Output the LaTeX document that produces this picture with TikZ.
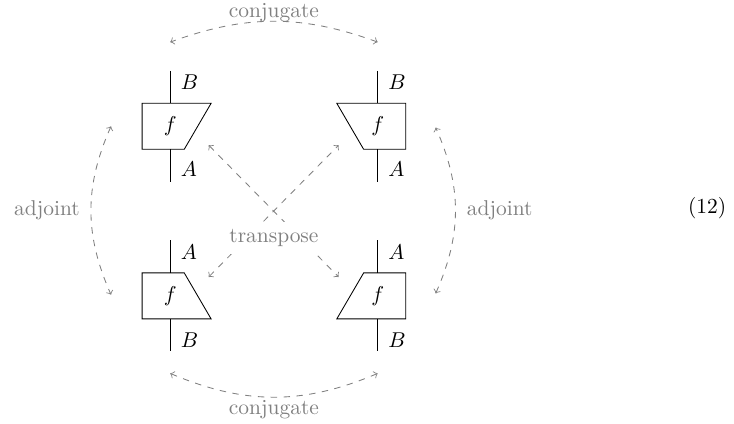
\documentclass[tikz,border=0pt]{standalone}
\begin{document}
\begin{tikzpicture}[
    box/.style={thin},
    wire/.style={thin},
    conn/.style={gray,dashed,<->},
    lbl/.style={gray},
    wlbl/.style={anchor=west,inner sep=0.333em}]
\useasboundingbox (-4.49,-3.475) rectangle (7.54,3.46);
    %boxes
    \draw[box](-2.16,1.013)--++(0,0.754)--++(1.13,0)--++(-0.44,-0.754)--cycle;
    \draw[box](2.16,1.013)--++(0,0.754)--++(-1.13,0)--++(0.44,-0.754)--cycle;
    \draw[box](-2.16,-1.013)--++(0,-0.754)--++(1.13,0)--++(-0.44,0.754)--cycle;
    \draw[box](2.16,-1.013)--++(0,-0.754)--++(-1.13,0)--++(0.44,0.754)--cycle;
    \node (fTL) at (-1.7,1.39) {$f$};
    \node (fTR) at (1.7,1.39) {$f$};
    \node (fBL) at (-1.7,-1.39) {$f$};
    \node (fBR) at (1.7,-1.39) {$f$};
    %wires
    \draw[wire](-1.7,2.30)--(-1.7,1.767);
    \draw[wire](-1.7,1.013)--(-1.7,0.48);
    \draw[wire](1.7,2.30)--(1.7,1.767);
    \draw[wire](1.7,1.013)--(1.7,0.48);
    \draw[wire](-1.7,-0.48)--(-1.7,-1.013);
    \draw[wire](-1.7,-1.767)--(-1.7,-2.30);
    \draw[wire](1.7,-0.48)--(1.7,-1.013);
    \draw[wire](1.7,-1.767)--(1.7,-2.30);
    %wire labels
    \node[wlbl] (bTL) at (-1.65,2.12) {$B$};
    \node[wlbl] (aTL) at (-1.65,0.68) {$A$};
    \node[wlbl] (bTR) at (1.75,2.12) {$B$};
    \node[wlbl] (aTR) at (1.75,0.68) {$A$};
    \node[wlbl] (aBL) at (-1.65,-0.67) {$A$};
    \node[wlbl] (bBL) at (-1.65,-2.11) {$B$};
    \node[wlbl] (aBR) at (1.75,-0.67) {$A$};
    \node[wlbl] (bBR) at (1.75,-2.11) {$B$};

    %arrow ends
    \coordinate (cTL) at (-1.7,2.77);
    \coordinate (cTR) at (1.7,2.77);
    \coordinate (cBL) at (-1.7,-2.66);
    \coordinate (cBR) at (1.7,-2.66);
    \coordinate (aLT) at (-2.67,1.39);
    \coordinate (aLB) at (-2.67,-1.37);
    \coordinate (aRT) at (2.65,1.37);
    \coordinate (aRB) at (2.65,-1.35);
    \coordinate (tTL) at (-1.07,1.08);
    \coordinate (tTR) at (1.06,1.08);
    \coordinate (tBL) at (-1.07,-1.08);
    \coordinate (tBR) at (1.06,-1.08);

    %conjugate
    \draw[conn](cTR) to[bend right=20] (cTL);
    \draw[conn](cBL) to[bend right=23] (cBR);
    \node[lbl] (conjT) at (0,3.25) {conjugate};
    \node[lbl] (conjB) at (0,-3.26) {conjugate};
    %adjoint
    \draw[conn](aLT) to[bend right=24] (aLB);
    \draw[conn](aRB) to[bend right=24] (aRT);
    \node[lbl] (adjL) at (-3.72,0.02) {adjoint};
    \node[lbl] (adjR) at (3.70,0.02) {adjoint};
    %transpose
    \draw[conn](tBL)--(tTR);
    \draw[conn](tTL)--(tBR);
    \node[lbl,fill=white] (trans) at (0,-0.44) {transpose};

    \node (eqno) at (7.10,0.05) {(12)};
\end{tikzpicture}
\end{document}
